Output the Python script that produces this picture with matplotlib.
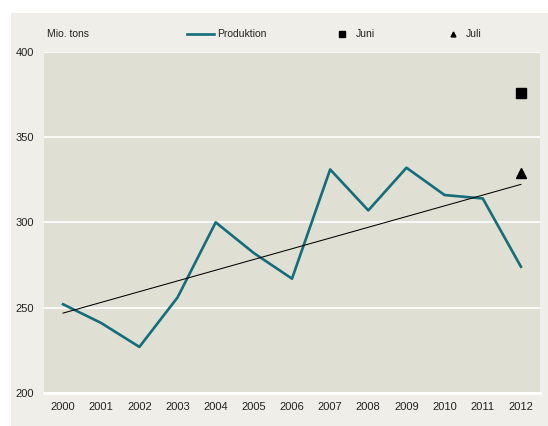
import numpy as np
import matplotlib.pyplot as plt
from matplotlib.patches import Rectangle
from matplotlib.lines import Line2D

plt.rcParams['font.family'] = ['Liberation Sans', 'DejaVu Sans']

# data
years = [2000, 2001, 2002, 2003, 2004, 2005, 2006, 2007, 2008, 2009, 2010, 2011, 2012]
produktion = [252, 241, 227, 256, 300, 282, 267, 331, 307, 332, 316, 314, 274]
juni_year, juni_val = 2012, 376
juli_year, juli_val = 2012, 329

teal = '#136d7a'
panel = '#efeee8'
plot_bg = '#e0dfd3'

fig = plt.figure(figsize=(5.48, 4.26), dpi=100)
fig.patch.set_facecolor('white')
fig.patches.append(Rectangle((11 / 548, 0), 1, 413 / 426, transform=fig.transFigure,
                             facecolor=panel, edgecolor='none', zorder=-10))

ax = fig.add_axes([44 / 548, 33 / 426, 496 / 548, 341.3 / 426])
ax.set_facecolor(plot_bg)

ax.plot(years, produktion, color=teal, lw=1.9, zorder=3)

# lineær trend
k, m = np.polyfit(years, produktion, 1)
ax.plot([years[0], years[-1]], [k * years[0] + m, k * years[-1] + m], color='black', lw=0.75, zorder=4)

ax.plot(juni_year, juni_val, marker='s', color='black', ms=7, ls='none', zorder=5)
ax.plot(juli_year, juli_val, marker='^', color='black', ms=6.5, ls='none', zorder=5)

ax.set_xlim(1999.5, 2012.5)
ax.set_ylim(200, 400)
ax.set_xticks(years)
ax.set_yticks([200, 250, 300, 350, 400])
ax.tick_params(length=0, labelsize=8, colors='#222222')
ax.tick_params(axis='x', pad=6.5)
ax.tick_params(axis='y', pad=7)
ax.grid(axis='y', color='white', lw=1.2)
ax.set_axisbelow(True)
for s in ['top', 'right', 'left']:
    ax.spines[s].set_visible(False)
ax.spines['bottom'].set_color('white')
ax.spines['bottom'].set_linewidth(2)

# legende øverst
ty = 1 - 34 / 426
fig.text(47 / 548, ty, 'Mio. tons', fontsize=7.5, va='center', color='#222222')
fig.add_artist(Line2D([187 / 548, 214 / 548], [ty, ty], color=teal, lw=1.9, transform=fig.transFigure))
fig.text(217 / 548, ty, 'Produktion', fontsize=7.5, va='center', color='#222222')
fig.add_artist(Line2D([342 / 548], [ty], marker='s', color='black', ms=4, transform=fig.transFigure))
fig.text(356 / 548, ty, 'Juni', fontsize=7.5, va='center', color='#222222')
fig.add_artist(Line2D([453 / 548], [ty], marker='^', color='black', ms=3.5, transform=fig.transFigure))
fig.text(466 / 548, ty, 'Juli', fontsize=7.5, va='center', color='#222222')

fig.savefig('out.png', dpi=100)
